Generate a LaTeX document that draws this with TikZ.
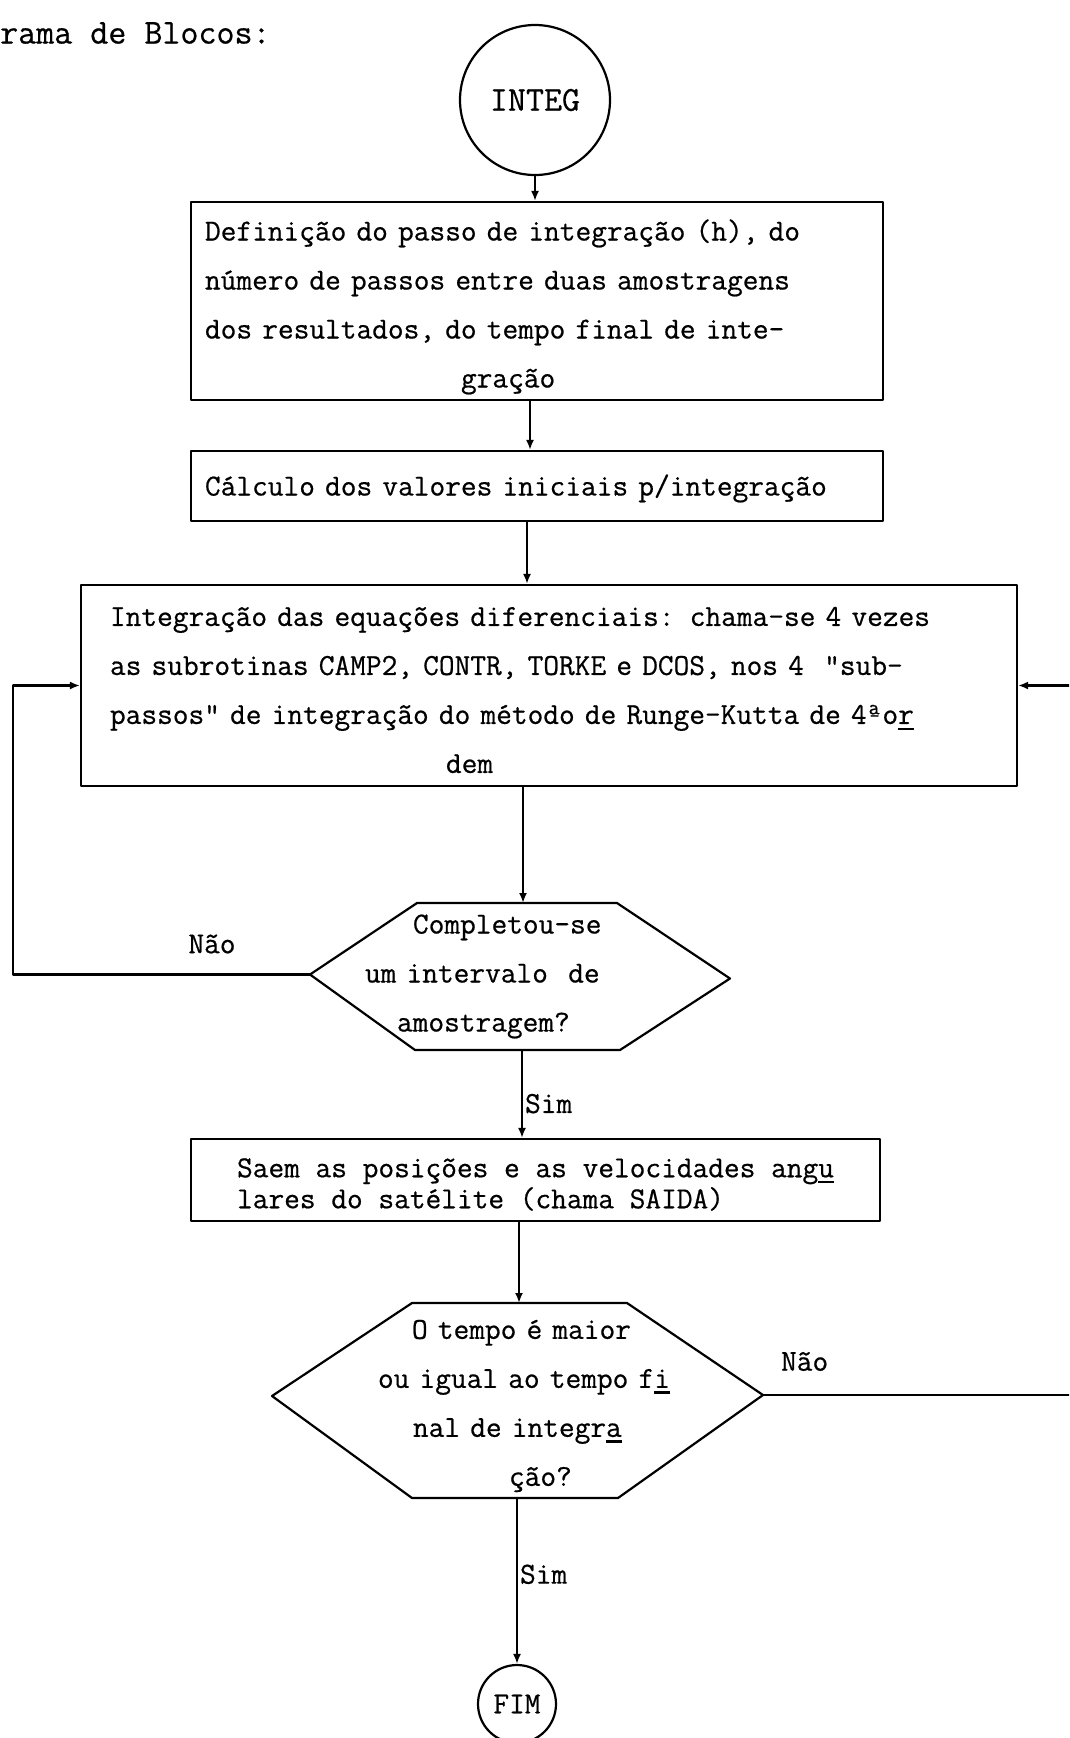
\documentclass[tikz,border=0pt]{standalone}
\usepackage{fontspec}
\usetikzlibrary{arrows.meta}
\newfontfamily\maquina{Latin Modern Mono}[FakeBold=0.6]
\newcommand{\sublinha}[1]{\setbox0\hbox{#1}\rlap{\rule[-6pt]{\wd0}{2.4pt}}\box0}

\begin{document}
\begin{tikzpicture}[x=1pt,y=-1pt,
  txt/.style={font=\maquina\fontsize{30.5}{49}\selectfont},
  big/.style={font=\maquina\fontsize{35}{40}\selectfont},
  linha/.style={line width=2.2pt, line join=round},
  caixa/.style={draw, linha, txt, align=left, inner ysep=0pt},
  hexa/.style={txt, align=left, inner sep=0pt},
  flow/.style={linha, -{Latex[length=10pt,width=8pt]}},
  rot/.style={txt, inner sep=0pt}]
\useasboundingbox (0,0) rectangle (1069,1738);
\clip (0,0) rectangle (1069,1738);

\node[big, anchor=west, inner sep=0pt] (titulo) at (0,33) {rama de Blocos:};
\node[big, draw, linha, circle, minimum size=150pt, inner sep=0pt] (integ) at (535,100) {INTEG};

\node[caixa, minimum width=692pt, minimum height=198pt, text width=664pt, inner xsep=14pt] (defbox) at (537,301)
  {\rule{0pt}{33pt}Definição do passo de integração (h),~do\\número de passos entre duas amostragens\\dos resultados, do tempo final de inte-\\\hspace*{256pt}gração};
\node[caixa, minimum width=692pt, minimum height=70pt, text width=664pt, inner xsep=14pt] (calcbox) at (537,486)
  {\rule{0pt}{26pt}Cálculo dos valores iniciais p/integração};
\node[caixa, minimum width=936pt, minimum height=201pt, text width=878pt, inner xsep=29pt] (rkbox) at (549,685.5)
  {\rule{0pt}{28pt}Integração das equações diferenciais: chama-se 4 vezes\\as subrotinas CAMP2, CONTR, TORKE e DCOS, nos 4~~"sub-\\passos" de integração do método de Runge-Kutta de 4ªo\sublinha{r}\\\hspace*{336pt}dem};

\node[hexa, text width=310pt] (hexA) at (520,976.5)
  {\hspace*{48pt}Completou-se\\um intervalo~~de\\\hspace*{32pt}amostragem?};
\draw[linha, shift={(hexA.center)}] (-210,-2) coordinate (hexAw) -- (-103,-73.5) -- (3,-73.5) coordinate (hexAn)
  -- (97,-73.5) -- (210,2) -- (100,73.5) -- (2,73.5) coordinate (hexAs) -- (-105,73.5) -- cycle;

\node[caixa, font=\maquina\fontsize{30.5}{31}\selectfont, minimum width=689pt, minimum height=82pt] (saida) at (535.5,1180)
  {\rule{0pt}{28pt}Saem as posições e as velocidades ang\sublinha{u}\\lares do satélite (chama SAIDA)};

\node[hexa, text width=369pt] (hexB) at (517.5,1406)
  {\hspace*{79pt}O tempo é maior\\\hspace*{45pt}ou igual ao tempo f\sublinha{i}\\\hspace*{80pt}nal de integr\sublinha{a}\\\hspace*{176pt}ção?};
\draw[linha, shift={(hexB.center)}] (-245.5,-10) -- (-105.5,-103) -- (1.5,-103) coordinate (hexBn)
  -- (109.5,-103) -- (245.5,-11) coordinate (hexBe) -- (100.5,92) -- (-0.5,92) coordinate (hexBs) -- (-105.5,92) -- cycle;

\node[txt, draw, linha, circle, minimum size=78pt, inner sep=0pt] (fim) at (517,1704) {FIM};

\coordinate (lft) at (13,0);
\coordinate (rgt) at (1110,0);

\draw[flow] (integ) -- (integ |- defbox.north);
\draw[flow] (defbox.south -| 530,0) -- (calcbox.north -| 530,0);
\draw[flow] (calcbox.south -| 527,0) -- (rkbox.north -| 527,0);
\draw[flow] (rkbox.south -| hexAn) -- (hexAn);
\draw[flow] (hexAs) -- node[rot, pos=0.61, right=2pt] (simA) {Sim} (hexAs |- saida.north);
\draw[flow] (saida.south -| hexBn) -- (hexBn);
\draw[flow] (hexBs) -- node[rot, pos=0.46, right=2pt] (simB) {Sim} (fim);
\draw[flow] (hexAw) -- node[rot, pos=0.33, above=20pt] (naoA) {Não} (lft |- hexAw) |- (rkbox.west);
\draw[flow] (hexBe) -- node[rot, pos=0.12, above=23pt] (naoB) {Não} (rgt |- hexBe) |- (rkbox.east);
\end{tikzpicture}
\end{document}
